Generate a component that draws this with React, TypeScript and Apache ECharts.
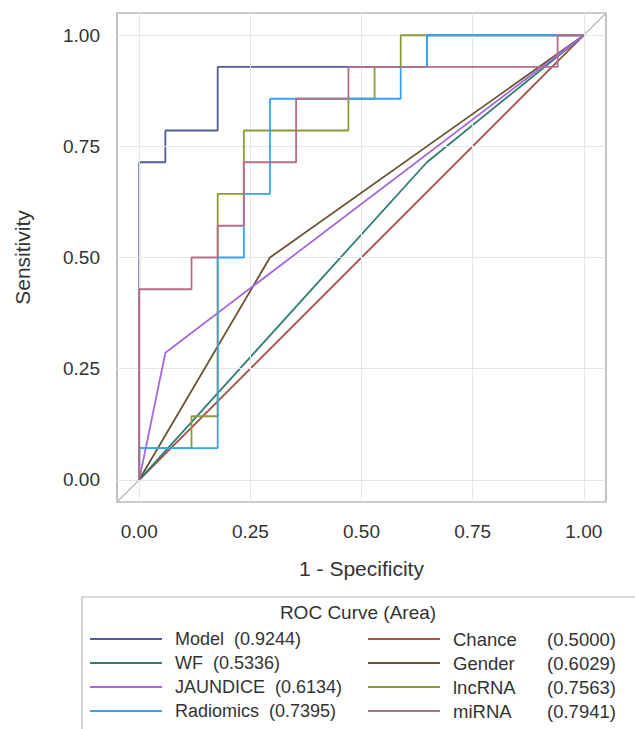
import React, { useEffect, useRef } from "react";
import * as echarts from "echarts";

const FONT = 'Arial, "Liberation Sans", Helvetica, sans-serif';

// Curve names, legend areas and colours (drawing order)
const names = ["Model", "Chance", "WF", "Gender", "JAUNDICE", "lncRNA", "Radiomics", "miRNA"];
const areas = ["0.9244", "0.5000", "0.5336", "0.6029", "0.6134", "0.7563", "0.7395", "0.7941"];
const colors = ["#505d96", "#a8504a", "#2f7d73", "#6a5434", "#a768de", "#8e9a36", "#35a3f6", "#b56d8c"];

// ROC vertices (1 - specificity, sensitivity)
const modelFPR = [0, 0, 0.0588, 0.0588, 0.1765, 0.1765, 0.6471, 0.6471, 1];
const modelTPR = [0, 0.7143, 0.7143, 0.7857, 0.7857, 0.9286, 0.9286, 1, 1];
const chanceFPR = [0, 1];
const chanceTPR = [0, 1];
const wfFPR = [0, 0.6471, 1];
const wfTPR = [0, 0.7143, 1];
const genderFPR = [0, 0.2941, 1];
const genderTPR = [0, 0.5, 1];
const jaundiceFPR = [0, 0.0588, 1];
const jaundiceTPR = [0, 0.2857, 1];
const lncFPR = [0, 0, 0.1176, 0.1176, 0.1765, 0.1765, 0.2353, 0.2353, 0.4706, 0.4706, 0.5294, 0.5294, 0.5882, 0.5882, 1];
const lncTPR = [0, 0.0714, 0.0714, 0.1429, 0.1429, 0.6429, 0.6429, 0.7857, 0.7857, 0.8571, 0.8571, 0.9286, 0.9286, 1, 1];
const radFPR = [0, 0, 0.1765, 0.1765, 0.2353, 0.2353, 0.2941, 0.2941, 0.5882, 0.5882, 0.6471, 0.6471, 1];
const radTPR = [0, 0.0714, 0.0714, 0.5, 0.5, 0.6429, 0.6429, 0.8571, 0.8571, 0.9286, 0.9286, 1, 1];
const mirFPR = [0, 0, 0.1176, 0.1176, 0.1765, 0.1765, 0.2353, 0.2353, 0.3529, 0.3529, 0.4706, 0.4706, 0.9412, 0.9412, 1];
const mirTPR = [0, 0.4286, 0.4286, 0.5, 0.5, 0.5714, 0.5714, 0.7143, 0.7143, 0.8571, 0.8571, 0.9286, 0.9286, 1, 1];

const curvesX = [modelFPR, chanceFPR, wfFPR, genderFPR, jaundiceFPR, lncFPR, radFPR, mirFPR];
const curvesY = [modelTPR, chanceTPR, wfTPR, genderTPR, jaundiceTPR, lncTPR, radTPR, mirTPR];

const tickValues = [0, 0.25, 0.5, 0.75, 1];
const axisMin = -0.05;
const axisMax = 1.05;
const diagonal = [axisMin, axisMax];

const legendLeft = ["Model", "WF", "JAUNDICE", "Radiomics"];
const legendRight = ["Chance", "Gender", "lncRNA", "miRNA"];

export default function App() {
  const ref = useRef<HTMLDivElement>(null);
  useEffect(() => {
    if (!ref.current) return;
    const chart = echarts.init(ref.current, null, { renderer: "svg" });
    const areaOf = (n: string) => areas[names.indexOf(n)];
    const baseText = { fontFamily: FONT, fontSize: 18, color: "#333", lineHeight: 24 };
    const legendCommon = {
      orient: "vertical",
      top: 627,
      padding: 0,
      itemGap: 0,
      itemWidth: 72,
      itemHeight: 2,
      icon: "rect",
      selectedMode: false,
    };
    const axisCommon = {
      type: "value",
      min: axisMin,
      max: axisMax,
      nameLocation: "middle",
      nameTextStyle: { fontFamily: FONT, fontSize: 21, color: "#333" },
      axisLine: { show: false },
      axisTick: { show: true, length: 8, customValues: tickValues, lineStyle: { color: "#8a8a8a" } },
      axisLabel: {
        customValues: tickValues,
        fontFamily: FONT,
        fontSize: 19,
        color: "#333",
        formatter: (v: number) => v.toFixed(2),
      },
      splitLine: { show: false },
    };
    const gridLines = [
      ...tickValues.map((v) => ({ xAxis: v })),
      ...tickValues.map((v) => ({ yAxis: v })),
    ];
    chart.setOption({
      animation: false,
      grid: { left: 117, top: 13, width: 489, height: 489, show: true, borderColor: "#9a9a9a", borderWidth: 1.2, backgroundColor: "#fff" },
      xAxis: { ...axisCommon, name: "1 - Specificity", nameGap: 56, axisLabel: { ...axisCommon.axisLabel, margin: 20 } },
      yAxis: { ...axisCommon, name: "Sensitivity", nameGap: 84, axisLabel: { ...axisCommon.axisLabel, margin: 17 } },
      legend: [
        {
          ...legendCommon,
          left: 90,
          data: legendLeft,
          formatter: (n: string) => `${n}  (${areaOf(n)})`,
          textStyle: { ...baseText, padding: [0, 0, 0, 8] },
        },
        {
          ...legendCommon,
          left: 368,
          data: legendRight,
          formatter: (n: string) => `{n|${n}}{v|(${areaOf(n)})}`,
          textStyle: {
            ...baseText,
            padding: [0, 0, 0, 8],
            rich: {
              n: { ...baseText, fontSize: 18.5, width: 94 },
              v: { ...baseText, fontSize: 18.5 },
            },
          },
        },
      ],
      graphic: [
        { type: "rect", shape: { x: 82, y: 597, width: 570, height: 150 }, style: { fill: "none", stroke: "#b4b4b4", lineWidth: 1.2 }, z: -1 },
        { type: "text", x: 358, y: 612, style: { text: "ROC Curve (Area)", fontFamily: FONT, fontSize: 19, fill: "#333", textAlign: "center", textVerticalAlign: "middle" } },
      ],
      series: [
        {
          name: "__grid",
          type: "line",
          data: [],
          z: 0,
          silent: true,
          markLine: {
            silent: true,
            symbol: "none",
            label: { show: false },
            lineStyle: { color: "#e6e6e6", type: "solid", width: 1 },
            data: gridLines,
          },
        },
        {
          name: "__diag",
          type: "line",
          data: diagonal.map((v) => [v, v]),
          symbol: "none",
          silent: true,
          z: 1,
          lineStyle: { color: "#bdbdbd", width: 1.5 },
        },
        ...names.map((n, i) => ({
          name: n,
          type: "line",
          data: curvesX[i].map((x, j) => [x, curvesY[i][j]]),
          symbol: "none",
          showSymbol: false,
          z: 2 + i,
          color: colors[i],
          lineStyle: { color: colors[i], width: 1.8 },
        })),
      ],
    });
    return () => chart.dispose();
  }, []);
  return <div ref={ref} style={{ width: 635, height: 729, position: "absolute", left: 0, top: 0 }} />;
}
